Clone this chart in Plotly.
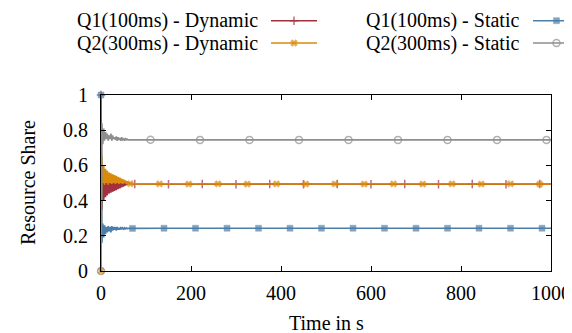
import plotly.graph_objects as go

# ---------------- data ----------------
t_early = [0, 2, 4, 6, 8, 10, 12, 14, 16, 18, 20, 22, 24, 26, 28, 30,
           32, 34, 36, 38, 40, 42, 44, 46, 48, 50, 52, 54, 56, 58, 60]

q1_dyn_early = [1.0, 0.35, 0.50, 0.40, 0.51, 0.42, 0.50, 0.43, 0.51, 0.44, 0.50,
                0.445, 0.505, 0.45, 0.50, 0.455, 0.505, 0.46, 0.50, 0.465, 0.505,
                0.47, 0.50, 0.475, 0.505, 0.48, 0.50, 0.485, 0.505, 0.49, 0.50]
q2_dyn_early = [0.0, 0.65, 0.50, 0.60, 0.49, 0.58, 0.50, 0.57, 0.49, 0.56, 0.50,
                0.555, 0.495, 0.55, 0.50, 0.545, 0.495, 0.54, 0.50, 0.535, 0.495,
                0.53, 0.50, 0.525, 0.495, 0.52, 0.50, 0.515, 0.495, 0.51, 0.495]
q1_sta_early = [1.0, 0.16, 0.27, 0.19, 0.26, 0.21, 0.25, 0.22, 0.255, 0.225, 0.25,
                0.22, 0.255, 0.23, 0.25, 0.235, 0.25, 0.23, 0.25, 0.235, 0.245,
                0.235, 0.25, 0.24, 0.245, 0.235, 0.245, 0.24, 0.245, 0.24, 0.243]
q2_sta_early = [0.0, 0.84, 0.72, 0.81, 0.74, 0.79, 0.75, 0.78, 0.74, 0.77, 0.75,
                0.78, 0.74, 0.77, 0.75, 0.76, 0.745, 0.765, 0.74, 0.76, 0.745,
                0.755, 0.74, 0.76, 0.745, 0.75, 0.74, 0.755, 0.745, 0.75, 0.745]

q1_dyn_tail_t = [75, 150, 225, 300, 375, 450, 525, 600, 675, 750, 825, 900, 975, 1000]
q1_dyn_tail = [0.494, 0.493, 0.494, 0.493, 0.494, 0.493, 0.494, 0.493, 0.494, 0.493,
               0.494, 0.493, 0.494, 0.494]
q2_dyn_tail_t = [65, 130, 195, 260, 325, 390, 455, 520, 585, 650, 715, 780, 845, 910, 975, 1000]
q2_dyn_tail = [0.496, 0.495, 0.494, 0.495, 0.494, 0.495, 0.494, 0.495, 0.494, 0.495,
               0.494, 0.495, 0.494, 0.495, 0.494, 0.494]
q1_sta_tail_t = [70, 140, 210, 280, 350, 420, 490, 560, 630, 700, 770, 840, 910, 980, 1000]
q1_sta_tail = [0.242, 0.243, 0.243, 0.243, 0.243, 0.243, 0.243, 0.243, 0.243, 0.243,
               0.243, 0.243, 0.243, 0.243, 0.243]
q2_sta_tail_t = [110, 220, 330, 440, 550, 660, 770, 880, 990, 1000]
q2_sta_tail = [0.746, 0.745, 0.745, 0.745, 0.745, 0.745, 0.745, 0.745, 0.745, 0.745]

series_names = ["Q1(100ms) - Dynamic", "Q2(300ms) - Dynamic",
                "Q1(100ms) - Static", "Q2(300ms) - Static"]
x_ticks = [0, 200, 400, 600, 800, 1000]
y_ticks = [0, 0.2, 0.4, 0.6, 0.8, 1]

# ---------------- style ----------------
W, H = 572, 333
FONT = "Liberation Serif, Times New Roman, serif"
FS = 20
colors = ["#a3303f", "#d98a0b", "#4d7ea8", "#8e8e8e"]
symbols = ["cross-thin", "x", "square", "circle-open"]
msize = [6, 6, 6, 7]
mline = [1.5, 0.5, 0.5, 1.5]
intervals = [75, 65, 70, 110]

# plot area in pixels
PX0, PX1, PY0, PY1 = 93, 543, 87, 263

series = [
    (t_early + q1_dyn_tail_t, q1_dyn_early + q1_dyn_tail),
    (t_early + q2_dyn_tail_t, q2_dyn_early + q2_dyn_tail),
    (t_early + q1_sta_tail_t, q1_sta_early + q1_sta_tail),
    (t_early + q2_sta_tail_t, q2_sta_early + q2_sta_tail),
]

fig = go.Figure()
for i, (tx, vy) in enumerate(series):
    sizes = [msize[i] if (t % intervals[i] == 0) else 0 for t in tx]
    fig.add_trace(go.Scatter(
        x=tx, y=vy, mode="lines+markers", name=series_names[i],
        line=dict(color=colors[i], width=1.6),
        marker=dict(symbol=symbols[i], size=sizes, color=colors[i],
                    line=dict(color=colors[i], width=mline[i])),
        cliponaxis=False, showlegend=False, xaxis="x", yaxis="y"))

# manual gnuplot-style key (text left, sample at right)
key_rows = [12.7, 35]
key_cols = [(252, 263, 309), (513, 525, 572)]
order = [(0, 0), (1, 0), (0, 1), (1, 1)]  # (row, col) per series
annotations = []
for i, (r, c) in enumerate(order):
    tx_r, lx0, lx1 = key_cols[c]
    yy = key_rows[r]
    fig.add_trace(go.Scatter(
        x=[lx0, (lx0 + lx1) / 2, lx1], y=[yy, yy, yy], mode="lines+markers",
        line=dict(color=colors[i], width=1.6),
        marker=dict(symbol=symbols[i], size=[0, msize[i], 0], color=colors[i],
                    line=dict(color=colors[i], width=mline[i])),
        cliponaxis=False, showlegend=False, xaxis="x2", yaxis="y2", hoverinfo="skip"))
    annotations.append(dict(x=tx_r, y=yy, xref="x2", yref="y2", text=series_names[i],
                            xanchor="right", yanchor="middle", showarrow=False,
                            font=dict(family=FONT, size=FS, color="black")))

annotations.append(dict(x=(PX0 + PX1) / 2, y=315, xref="x2", yref="y2", text="Time in s",
                        xanchor="center", yanchor="middle", showarrow=False,
                        font=dict(family=FONT, size=FS, color="black")))
annotations.append(dict(x=20, y=(PY0 + PY1) / 2, xref="x2", yref="y2", text="Resource Share",
                        textangle=-90, xanchor="center", yanchor="middle", showarrow=False,
                        font=dict(family=FONT, size=FS, color="black")))

axis_common = dict(showgrid=False, zeroline=False, showline=True, linecolor="black",
                   linewidth=1.2, mirror="allticks", ticks="inside", ticklen=5,
                   tickwidth=1, tickcolor="black", automargin=False,
                   tickfont=dict(family=FONT, size=FS, color="black"))

fig.update_layout(
    width=W, height=H, margin=dict(l=0, r=0, t=0, b=0),
    paper_bgcolor="white", plot_bgcolor="rgba(0,0,0,0)",
    showlegend=False,
    xaxis=dict(domain=[PX0 / W, PX1 / W], range=[0, 1000], tickvals=x_ticks,
               ticklabelstandoff=4, anchor="y", **axis_common),
    yaxis=dict(domain=[1 - PY1 / H, 1 - PY0 / H], range=[0, 1], tickvals=y_ticks,
               ticklabelstandoff=8, anchor="x", **axis_common),
    xaxis2=dict(domain=[0, 1], range=[0, W], visible=False, anchor="y2",
                fixedrange=True),
    yaxis2=dict(domain=[0, 1], range=[H, 0], visible=False, anchor="x2",
                fixedrange=True),
    annotations=annotations,
)

fig.write_html("out.html")
